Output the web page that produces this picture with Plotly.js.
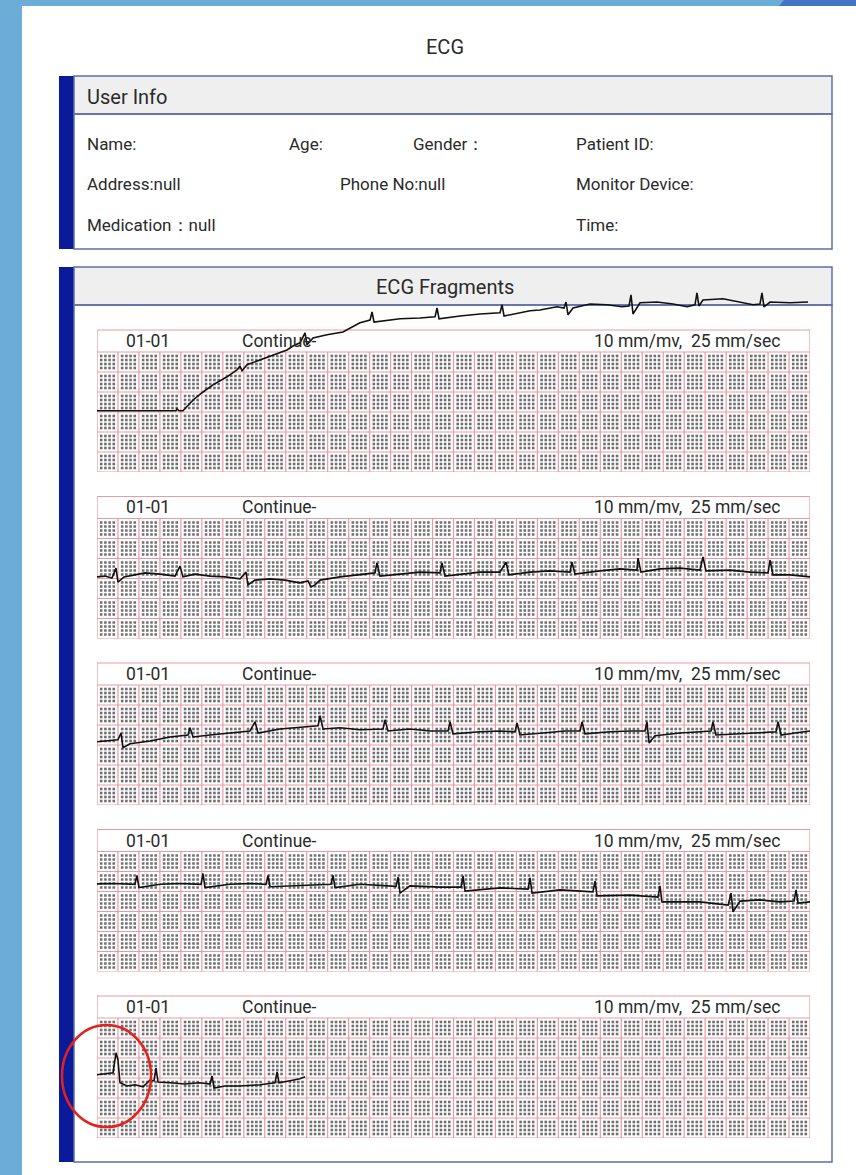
<!DOCTYPE html>
<html><head><meta charset="utf-8">
<script src="https://cdn.plot.ly/plotly-3.0.1.min.js"></script>
<style>html,body{margin:0;padding:0;background:#6badd6;}#chart{width:856px;height:1175px;}</style>
</head><body><div id="chart"></div>
<script>
// ---------------- data ----------------
const stripDates = ['01-01','01-01','01-01','01-01','01-01'];
const stripMode = 'Continue-';
const stripScale = '10 mm/mv,\u00a0\u00a025 mm/sec';
const infoRow1 = ['Name:', 'Age:', 'Gender：', 'Patient ID:'];
const infoRow2 = ['Address:null', 'Phone No:null', 'Monitor Device:'];
const infoRow3 = ['Medication：null', 'Time:'];

// strip 1 (time s, amplitude mV)
const ecg1Time = [0,0.753,0.763,0.782,0.820,0.916,1.011,1.106,1.240,1.335,1.364,1.383,1.431,1.555,1.679,1.812,1.869,1.936,1.984,2.003,2.060,2.194,2.346,2.442,2.508,2.604,2.623,2.642,2.890,3.081,3.224,3.243,3.262,3.462,3.653,3.844,3.863,3.882,4.130,4.225,4.387,4.454,4.473,4.492,4.540,4.702,4.864,5.007,5.074,5.093,5.112,5.179,5.341,5.494,5.627,5.703,5.722,5.741,5.779,5.970,6.133,6.257,6.323,6.342,6.361,6.419,6.610,6.781];
const ecg1Mv = [1.53,1.53,1.58,1.53,1.53,1.80,2.00,2.18,2.38,2.55,2.65,2.53,2.68,2.80,2.93,3.05,3.15,3.23,3.48,3.18,3.35,3.43,3.50,3.63,3.73,3.80,4.00,3.75,3.83,3.85,3.88,4.10,3.83,3.90,3.95,3.98,4.18,3.90,4.03,4.05,4.13,4.10,4.25,3.93,4.10,4.20,4.18,4.13,4.15,4.43,3.95,4.23,4.25,4.20,4.13,4.18,4.48,4.15,4.30,4.33,4.25,4.18,4.20,4.48,4.13,4.25,4.23,4.25];

// strip 2
const ecg2Time = [0,0.076,0.143,0.181,0.200,0.258,0.362,0.458,0.601,0.744,0.792,0.820,0.935,1.078,1.221,1.364,1.421,1.440,1.507,1.650,1.793,1.936,2.012,2.041,2.079,2.127,2.318,2.508,2.651,2.670,2.699,2.890,3.081,3.271,3.290,3.319,3.462,3.653,3.844,3.901,3.929,4.130,4.320,4.511,4.530,4.559,4.797,4.988,5.150,5.160,5.188,5.370,5.560,5.751,5.779,5.808,6.037,6.228,6.400,6.419,6.447,6.610,6.800];
const ecg2Mv = [1.54,1.56,1.51,1.76,1.41,1.54,1.59,1.64,1.61,1.56,1.81,1.54,1.61,1.56,1.54,1.49,1.66,1.34,1.46,1.49,1.46,1.39,1.44,1.29,1.34,1.46,1.54,1.59,1.64,1.89,1.56,1.61,1.66,1.64,1.89,1.56,1.61,1.66,1.66,1.91,1.59,1.66,1.69,1.66,1.91,1.61,1.69,1.74,1.71,2.01,1.66,1.74,1.76,1.71,2.04,1.69,1.71,1.66,1.64,1.96,1.59,1.59,1.54];

// strip 3
const ecg3Time = [0,0.124,0.200,0.229,0.248,0.315,0.505,0.696,0.868,0.887,0.916,1.078,1.268,1.459,1.507,1.536,1.745,1.936,2.108,2.127,2.156,2.318,2.508,2.728,2.747,2.775,2.985,3.176,3.348,3.367,3.395,3.653,3.844,3.987,4.006,4.034,4.273,4.463,4.607,4.626,4.654,4.893,5.083,5.226,5.245,5.265,5.322,5.560,5.751,5.856,5.875,5.903,6.133,6.323,6.476,6.495,6.524,6.657,6.800];
const ecg3Mv = [1.58,1.60,1.63,1.80,1.43,1.53,1.60,1.70,1.75,1.93,1.70,1.75,1.80,1.85,2.08,1.80,1.90,1.95,1.98,2.23,1.90,1.93,1.88,1.90,2.13,1.85,1.90,1.85,1.85,2.08,1.78,1.83,1.85,1.83,2.05,1.75,1.80,1.85,1.85,2.08,1.78,1.83,1.85,1.85,2.08,1.55,1.73,1.80,1.83,1.85,2.08,1.75,1.78,1.80,1.83,2.08,1.75,1.80,1.85];

// strip 4
const ecg4Time = [0,0.172,0.362,0.381,0.400,0.601,0.792,0.992,1.011,1.030,1.268,1.459,1.612,1.631,1.650,1.936,2.232,2.251,2.270,2.508,2.699,2.852,2.871,2.890,2.985,3.271,3.472,3.491,3.510,3.844,4.111,4.130,4.149,4.416,4.730,4.750,4.769,5.083,5.350,5.369,5.388,5.751,6.019,6.047,6.066,6.133,6.323,6.514,6.648,6.667,6.686,6.800];
const ecg4Mv = [2.19,2.20,2.18,2.40,2.10,2.18,2.20,2.18,2.45,2.10,2.18,2.20,2.18,2.40,2.12,2.15,2.18,2.40,2.10,2.18,2.16,2.13,2.36,1.96,2.14,2.11,2.11,2.39,2.01,2.09,2.06,2.34,1.96,2.04,1.99,2.26,1.89,1.91,1.86,2.14,1.74,1.74,1.66,1.96,1.49,1.76,1.79,1.74,1.76,2.04,1.71,1.74];

// strip 5
const ecg5Time = [0,0.076,0.153,0.181,0.200,0.219,0.286,0.362,0.439,0.505,0.544,0.563,0.582,0.696,0.839,0.982,1.078,1.097,1.116,1.221,1.364,1.555,1.698,1.717,1.736,1.841,1.936,1.984];
const ecg5Mv = [1.58,1.60,1.63,2.13,1.95,1.38,1.30,1.33,1.28,1.45,1.43,1.75,1.40,1.38,1.35,1.38,1.35,1.55,1.25,1.30,1.30,1.33,1.38,1.65,1.38,1.43,1.48,1.53];

const ecgTimes = [ecg1Time, ecg2Time, ecg3Time, ecg4Time, ecg5Time];
const ecgMvs = [ecg1Mv, ecg2Mv, ecg3Mv, ecg4Mv, ecg5Mv];

// ---------------- layout helpers ----------------
const W = 856, H = 1175;
const px = x => x / W;
const py = y => 1 - y / H;
const GRID_L = 97, GRID_R = 810;
const STRIP_SEC = 6.8, BIG_T = 0.2, BIG_V = 0.5, GRID_MV = 3.0, HEAD_MV = 0.55;
const PX_PER_MV = 40;
const stripBottoms = [472, 638.5, 805, 971.5, 1138];
const stripTops = [4.7, 3.6, 3.6, 3.6, 3.6];

const traces = [];
const layout = {
  width: W, height: H,
  margin: {l: 0, r: 0, t: 0, b: 0, pad: 0},
  paper_bgcolor: '#6badd6',
  plot_bgcolor: 'rgba(0,0,0,0)',
  showlegend: false,
  hovermode: false,
  font: {family: 'Roboto, "Noto Sans", sans-serif', color: '#2a2a2a', size: 17},
  shapes: [], annotations: []
};

const frameLine = {color: '#5f6ea8', width: 1.5};
function rectPx(x0, y0, x1, y1, fill, line, layer) {
  layout.shapes.push({type: 'rect', xref: 'paper', yref: 'paper', x0: px(x0), x1: px(x1), y0: py(y1), y1: py(y0),
    fillcolor: fill, line: line || {width: 0}, layer: layer || 'below'});
}
// page
rectPx(22, 6, 856, 1175, '#ffffff', {width: 0});
layout.shapes.push({type: 'path', xref: 'paper', yref: 'paper', layer: 'below',
  path: `M ${px(779)} ${py(6)} L ${px(784)} ${py(0)} L ${px(856)} ${py(0)} L ${px(856)} ${py(6)} Z`,
  fillcolor: '#4472c4', line: {width: 0}});
// user info section
rectPx(59, 76, 74, 249, '#0a1a99');
rectPx(74, 76, 832, 114, '#efefef', frameLine);
rectPx(74, 114, 832, 249, 'rgba(0,0,0,0)', frameLine);
// ecg fragments section
rectPx(59, 267, 74, 1162, '#0a1a99');
rectPx(74, 267, 832, 305, '#efefef', frameLine);
rectPx(74, 305, 832, 1162, 'rgba(0,0,0,0)', frameLine);

function annPx(text, x, y, anchor, size) {
  layout.annotations.push({text: text, xref: 'paper', yref: 'paper', x: px(x), y: py(y),
    xanchor: anchor, yanchor: 'middle', showarrow: false, font: {size: size}});
}
annPx('ECG', 445, 47, 'center', 20);
annPx('User Info', 85, 97, 'left', 20);
const row1X = [85, 287, 411, 574], row2X = [85, 338, 574], row3X = [85, 574];
infoRow1.forEach((s, i) => annPx(s, row1X[i], 144, 'left', 17));
infoRow2.forEach((s, i) => annPx(s, row2X[i], 184, 'left', 17));
infoRow3.forEach((s, i) => annPx(s, row3X[i], 225, 'left', 17));
annPx('ECG Fragments', 445, 287, 'center', 20);

// ---------------- strips ----------------
for (let s = 0; s < 5; s++) {
  const n = s + 1;
  const xa = 'xaxis' + (n === 1 ? '' : n), ya = 'yaxis' + (n === 1 ? '' : n);
  const xr = 'x' + (n === 1 ? '' : n), yr = 'y' + (n === 1 ? '' : n);
  const B = stripBottoms[s], top = stripTops[s];
  const axBase = {showgrid: false, zeroline: false, showticklabels: false, ticks: '', showline: false, fixedrange: true};
  layout[xa] = Object.assign({}, axBase, {domain: [px(GRID_L), px(GRID_R)], range: [0, STRIP_SEC], anchor: yr});
  layout[ya] = Object.assign({}, axBase, {domain: [py(B), py(B - top * PX_PER_MV)], range: [0, top], anchor: xr});

  // grid lines (big squares) + header box
  const gx = [], gy = [];
  const nCols = Math.round(STRIP_SEC / BIG_T), nRows = Math.round(GRID_MV / BIG_V);
  for (let k = 0; k <= nCols; k++) {
    const t = k * BIG_T;
    const yTop = (k === 0 || k === nCols) ? GRID_MV + HEAD_MV : GRID_MV;
    gx.push(t, t, null); gy.push(0, yTop, null);
  }
  for (let j = 0; j <= nRows; j++) {
    gx.push(0, STRIP_SEC, null); gy.push(j * BIG_V, j * BIG_V, null);
  }
  gx.push(0, STRIP_SEC); gy.push(GRID_MV + HEAD_MV, GRID_MV + HEAD_MV);
  traces.push({type: 'scatter', mode: 'lines', x: gx, y: gy, xaxis: xr, yaxis: yr,
    line: {color: '#e79ba4', width: 1.2}, hoverinfo: 'skip'});

  // small-square dots
  const dx = [], dy = [];
  for (let k = 0; k < nCols * 5; k++) {
    if (k % 5 === 0) continue;
    for (let j = 0; j < nRows * 5; j++) {
      if (j % 5 === 0) continue;
      dx.push(k * BIG_T / 5); dy.push(j * BIG_V / 5);
    }
  }
  traces.push({type: 'scatter', mode: 'markers', x: dx, y: dy, xaxis: xr, yaxis: yr,
    marker: {symbol: 'square', size: 2.6, color: '#6f6f6f', line: {width: 0}}, hoverinfo: 'skip'});

  // ecg trace
  traces.push({type: 'scatter', mode: 'lines', x: ecgTimes[s], y: ecgMvs[s], xaxis: xr, yaxis: yr,
    line: {color: '#111111', width: 1.6}, hoverinfo: 'skip', cliponaxis: false});

  const headMid = GRID_MV + HEAD_MV / 2;
  const annBase = {xref: xr, yref: yr, y: headMid, yanchor: 'middle', showarrow: false, font: {size: 17.5}};
  layout.annotations.push(Object.assign({}, annBase, {text: stripDates[s], x: 0.486, xanchor: 'center'}));
  layout.annotations.push(Object.assign({}, annBase, {text: stripMode, x: 1.36, xanchor: 'left'}));
  layout.annotations.push(Object.assign({}, annBase, {text: stripScale, x: 6.53, xanchor: 'right'}));
}

// highlight circle
layout.shapes.push({type: 'circle', xref: 'paper', yref: 'paper', layer: 'above',
  x0: px(62), x1: px(151), y0: py(1127), y1: py(1025), line: {color: '#e2221f', width: 2.5}});

Plotly.newPlot('chart', traces, layout, {displayModeBar: false, staticPlot: true});
</script></body></html>
